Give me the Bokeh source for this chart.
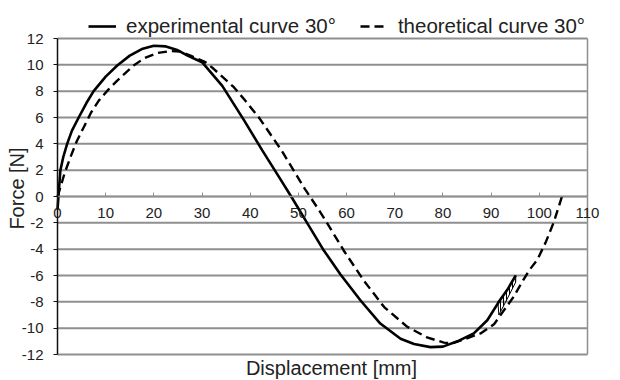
import math
from bokeh.plotting import figure
from bokeh.models import Range1d, FixedTicker, Legend, LegendItem, Label
from bokeh.embed import file_html
from bokeh.resources import INLINE

# ---- data ----
exp_x = [0, 0.3, 0.6, 1.2, 2.0, 3.0, 4.4, 6.0, 7.5, 10.0, 12.4, 15.0, 17.5, 20.0, 22.5, 25.0, 27.0, 30.0,
         34.2, 38.7, 42.5, 45.6, 48.5, 51.8, 55.1, 58.7, 62.9, 67.0, 71.2, 74.0, 77.4, 80.0, 83.0, 86.4,
         89.2, 91.6, 93.5, 95.1]
exp_y = [-1.0, 0.5, 2.0, 3.0, 4.0, 5.0, 6.0, 7.1, 8.0, 9.1, 9.95, 10.7, 11.2, 11.45, 11.4, 11.1, 10.7, 10.2,
         8.4, 5.8, 3.5, 1.7, 0.0, -2.0, -4.0, -5.9, -7.9, -9.65, -10.8, -11.2, -11.44, -11.4, -11.0, -10.4,
         -9.4, -8.0, -7.0, -6.0]

theo_x = [0, 0.6, 1.5, 2.7, 4.0, 5.5, 7.0, 8.6, 10.5, 12.4, 15.8, 18.0, 20.7, 23.5, 25.5, 27.6, 30.7, 32.4,
          36.6, 38.7, 41.8, 46.5, 51.3, 54.2, 55.6, 59.4, 63.6, 67.8, 72.6, 76.7, 80.2, 82.0, 83.6, 87.8,
          90.6, 94.7, 96.1, 97.9, 99.6, 101.3, 103.0, 104.7]
theo_y = [0.0, 0.7, 1.8, 3.0, 4.2, 5.3, 6.4, 7.3, 8.1, 8.8, 9.95, 10.5, 10.9, 11.05, 11.0, 10.7, 10.2, 9.7,
          8.3, 7.4, 6.0, 3.5, 0.6, -1.0, -1.8, -4.1, -6.4, -8.4, -9.9, -10.7, -11.1, -11.15, -10.95, -10.4,
          -9.7, -7.6, -6.7, -5.6, -4.8, -3.5, -1.95, 0.0]

# hatched band at the end of the experimental curve
hatch_x = [91.4, 93.3, 95.1, 95.1, 93.3, 91.6]
hatch_y = [-8.0, -7.1, -6.0, -6.5, -7.8, -9.0]

x_ticks = [0, 10, 20, 30, 40, 50, 60, 70, 80, 90, 100, 110]
y_ticks = [-12, -10, -8, -6, -4, -2, 0, 2, 4, 6, 8, 10, 12]
y_tick_labels = ["-12", "-10", "-8", "-6", "-4", "-2", "0", "2", "4", "6", "8", "10", "12"]
X_MIN, X_MAX = 0, 110
Y_MIN, Y_MAX = -12, 12

series_names = ["experimental curve 30°", "theoretical curve 30°"]
x_title = "Displacement [mm]"
y_title = "Force [N]"

# ---- layout / style ----
FONT = "Liberation Sans"
GRID = "#8f8f8f"
TXT = "#222222"
W, H = 620, 380
# pixel positions of the data box: x=0, x=110, y=12, y=-12
BOX_L, BOX_R, BOX_T, BOX_B = 57, 587, 38, 354
PXX = (BOX_R - BOX_L) / (X_MAX - X_MIN)
PXY = (BOX_B - BOX_T) / (Y_MAX - Y_MIN)

p = figure(width=W, height=H, output_backend="svg", toolbar_location=None, min_border=0,
           x_range=Range1d(X_MIN - BOX_L / PXX, X_MAX + (W - BOX_R) / PXX),
           y_range=Range1d(Y_MIN - (H - BOX_B) / PXY, Y_MAX + BOX_T / PXY))
try:
    p.title = None
except Exception:
    p.title.visible = False
p.background_fill_color = "white"
p.border_fill_color = "white"
p.outline_line_color = None
p.xgrid.visible = False
p.ygrid.visible = False

# horizontal grid lines limited to the data box, plus right border
p.segment(x0=[X_MIN] * len(y_ticks), y0=y_ticks, x1=[X_MAX] * len(y_ticks), y1=y_ticks,
          line_color=GRID, line_width=2)
p.segment(x0=[X_MAX], y0=[Y_MIN], x1=[X_MAX], y1=[Y_MAX], line_color=GRID, line_width=1.5)

# x axis at y = 0
xa = p.xaxis[0]
xa.ticker = FixedTicker(ticks=x_ticks)
xa.fixed_location = 0
xa.bounds = (X_MIN, X_MAX)
xa.axis_line_color = GRID
xa.axis_line_width = 1.5
xa.major_tick_line_color = GRID
xa.major_tick_in = 4
xa.major_tick_out = 0
xa.minor_tick_line_color = None
xa.major_label_standoff = 11
xa.major_label_text_font = FONT
xa.major_label_text_font_size = "15px"
xa.major_label_text_color = TXT

# y axis at x = 0
ya = p.yaxis[0]
ya.ticker = FixedTicker(ticks=y_ticks)
ya.fixed_location = 0
ya.bounds = (Y_MIN, Y_MAX)
ya.major_label_overrides = {t: s for t, s in zip(y_ticks, y_tick_labels)}
ya.axis_line_color = "#111111"
ya.axis_line_width = 1.5
ya.major_tick_line_color = "#111111"
ya.major_tick_in = 0
ya.major_tick_out = 4
ya.minor_tick_line_color = None
ya.major_label_standoff = 10
ya.major_label_text_font = FONT
ya.major_label_text_font_size = "15px"
ya.major_label_text_color = TXT

# curves
r_exp = p.line(exp_x, exp_y, line_color="black", line_width=2.6)
r_theo = p.line(theo_x, theo_y, line_color="black", line_width=2.4, line_dash="9 5")
p.patch(hatch_x, hatch_y, fill_color=None, line_color="black", line_width=1,
        hatch_pattern="|", hatch_color="black", hatch_scale=3, hatch_weight=1)

# axis titles
p.add_layout(Label(x=(X_MIN + X_MAX) / 2, y=Y_MIN, x_offset=9, y_offset=-13, text=x_title,
                   text_font=FONT, text_font_size="20px", text_color=TXT,
                   text_align="center", text_baseline="alphabetic"))
p.add_layout(Label(x=X_MIN, y=0, x_offset=-41, y_offset=8, text=y_title, angle=math.pi / 2,
                   text_font=FONT, text_font_size="20px", text_color=TXT,
                   text_align="center", text_baseline="alphabetic"))

# legend on top
leg = Legend(items=[LegendItem(label=series_names[0], renderers=[r_exp]),
                    LegendItem(label=series_names[1], renderers=[r_theo])],
             orientation="horizontal", location=(88, H - 38),
             padding=0, margin=0, spacing=24, label_standoff=10,
             glyph_width=28, glyph_height=20, label_height=20,
             border_line_color=None, background_fill_alpha=0,
             label_text_font=FONT, label_text_font_size="20.5px", label_text_color=TXT)
p.add_layout(leg, "center")

open("out.html", "w").write(file_html(p, INLINE))
